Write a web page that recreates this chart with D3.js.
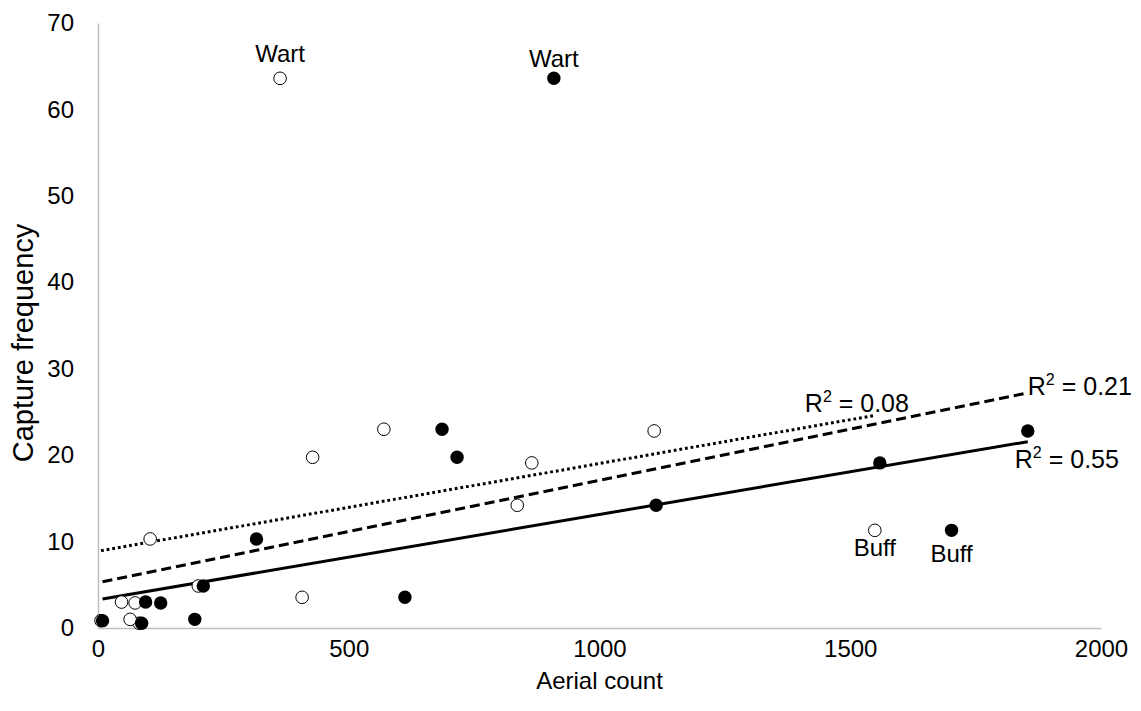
<!DOCTYPE html>
<html>
<head>
<meta charset="utf-8">
<script src="https://cdn.jsdelivr.net/npm/d3@7"></script>
<style>
    body { margin: 0; background: #fff; }
    text { font-family: "Liberation Sans", Arial, sans-serif; fill: #000; }
</style>
</head>
<body>
<div id="chart"></div>
<script>
// Capture frequency per site, with two aerial counts per site
const captureFreq = [0.85, 0.55, 3.0, 2.9, 1.0, 4.86, 10.3, 3.55, 23.0, 19.75, 63.6, 14.2, 19.1, 11.3, 22.8];
const countOpen   = [6, 82, 47, 74, 64, 200, 104, 407, 570, 428, 363, 836, 865, 1549, 1109];
const countFilled = [9, 87, 95, 125, 193, 210, 316, 612, 686, 716, 909, 1113, 1559, 1702, 1854];

const xTicks = [0, 500, 1000, 1500, 2000];
const yTicks = [0, 10, 20, 30, 40, 50, 60, 70];

// trendlines: [x0, y0, x1, y1]
const trendDotted = [6, 8.95, 1549, 24.6];
const trendDashed = [9, 5.36, 1854, 27.2];
const trendSolid  = [9, 3.36, 1854, 21.56];
const r2Labels = ["0.08", "0.21", "0.55"];

// point labels (index into the arrays above)
const wartIdx = 10;
const buffIdx = 13;

const width = 1141, height = 711;
const margin = { top: 23, right: 40, bottom: 83, left: 98 };

const svg = d3.select("#chart").append("svg")
    .attr("width", width)
    .attr("height", height);

const x = d3.scaleLinear().domain([0, 2000]).range([margin.left, width - margin.right]);
const y = d3.scaleLinear().domain([0, 70]).range([height - margin.bottom, margin.top]);

// Axes
const xAxis = svg.append("g")
    .attr("transform", `translate(0,${y(0)})`)
    .call(d3.axisBottom(x).tickValues(xTicks).tickSize(0).tickPadding(12).tickFormat(d3.format("d")));

const yAxis = svg.append("g")
    .attr("transform", `translate(${x(0)},0)`)
    .call(d3.axisLeft(y).tickValues(yTicks).tickSize(0).tickPadding(24).tickFormat(d3.format("d")));

[xAxis, yAxis].forEach(a => {
    a.select(".domain").attr("stroke", "#bfbfbf").attr("stroke-width", 1.5);
    a.selectAll("text")
        .style("font-family", "'Liberation Sans', Arial, sans-serif")
        .style("font-size", "24px")
        .attr("fill", "#000");
});

// Axis titles
svg.append("text")
    .attr("x", x(1000))
    .attr("y", 689)
    .attr("text-anchor", "middle")
    .style("font-size", "24px")
    .text("Aerial count");

svg.append("text")
    .attr("transform", `translate(33,343) rotate(-90)`)
    .attr("text-anchor", "middle")
    .style("font-size", "29px")
    .text("Capture frequency");

// Trendlines
function trend(t, dash) {
    svg.append("line")
        .attr("x1", x(t[0])).attr("y1", y(t[1]))
        .attr("x2", x(t[2])).attr("y2", y(t[3]))
        .attr("stroke", "#000")
        .attr("stroke-width", 3)
        .attr("stroke-dasharray", dash);
}
trend(trendDotted, "2.8,2.9");
trend(trendDashed, "10,5");
trend(trendSolid, null);

// Points, open series first so filled ones sit on top
svg.append("g").selectAll("circle")
    .data(countOpen)
    .join("circle")
    .attr("cx", d => x(d))
    .attr("cy", (d, i) => y(captureFreq[i]))
    .attr("r", 6.3)
    .attr("fill", "#fff")
    .attr("stroke", "#000")
    .attr("stroke-width", 1);

svg.append("g").selectAll("circle")
    .data(countFilled)
    .join("circle")
    .attr("cx", d => x(d))
    .attr("cy", (d, i) => y(captureFreq[i]))
    .attr("r", 6.7)
    .attr("fill", "#000");

// Point labels
function label(px, py, txt) {
    svg.append("text")
        .attr("x", px).attr("y", py)
        .attr("text-anchor", "middle")
        .style("font-size", "24px")
        .text(txt);
}
label(x(countOpen[wartIdx]), y(captureFreq[wartIdx]) - 16, "Wart");
label(x(countFilled[wartIdx]), y(captureFreq[wartIdx]) - 11, "Wart");
label(x(countOpen[buffIdx]), y(captureFreq[buffIdx]) + 26, "Buff");
label(x(countFilled[buffIdx]), y(captureFreq[buffIdx]) + 32, "Buff");

// R squared labels
function r2(px, py, val) {
    const t = svg.append("text")
        .attr("x", px).attr("y", py)
        .style("font-size", "25px");
    t.append("tspan").text("R");
    t.append("tspan").attr("dy", -10).style("font-size", "16px").text("2");
    t.append("tspan").attr("dy", 10).text(" = " + val);
}
r2(x(trendDotted[2]) - 70, y(trendDotted[3]) - 3, r2Labels[0]);
r2(x(trendDashed[2]), y(trendDashed[3]) + 2, r2Labels[1]);
r2(x(trendSolid[2]) - 13, y(trendSolid[3]) + 26, r2Labels[2]);
</script>
</body>
</html>
